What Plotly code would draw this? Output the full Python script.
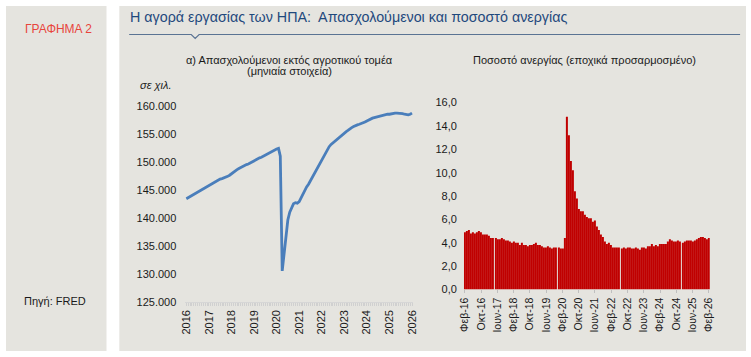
import plotly.graph_objects as go
import pandas as pd

W, H = 751, 357

# ---------------- DATA ----------------
# Nonfarm payrolls, thousands, monthly Jan 2016 .. Jan 2026
payroll_start = "2016-01-01"
payrolls = [
    143400, 143600, 143800, 144000, 144100, 144400, 144600, 144800, 145000, 145200, 145300, 145500,
    145700, 145900, 146100, 146300, 146500, 146700, 146900, 147000, 147100, 147200, 147400, 147600,
    147900, 148200, 148400, 148600, 148800, 149000, 149100, 149300, 149500, 149600, 149800, 150000,
    150200, 150300, 150500, 150700, 150800, 151000, 151200, 151300, 151500, 151700, 151900, 152100,
    152300, 152400, 151000, 130500, 133500, 137800, 139600, 141000, 141900, 142500, 142700, 142600,
    142900, 143600, 144300, 144800, 145500, 146000, 146600, 147200, 147800, 148500, 149100, 149800,
    150500, 151000, 151600, 152100, 152700, 153100, 153400, 153700, 154000, 154300, 154600, 154900,
    155100, 155400, 155600, 155900, 156100, 156300, 156500, 156600, 156700, 156800, 156900, 157100,
    157300, 157500, 157700, 157800, 157900, 158000, 158000, 158100, 158200, 158300, 158400, 158500,
    158500, 158600, 158700, 158700, 158700, 158700, 158700, 158600, 158500, 158400, 158400, 158500,
    158700,
]
year_ticks = ["2016", "2017", "2018", "2019", "2020", "2021", "2022", "2023", "2024", "2025", "2026"]

# Unemployment rate, %, monthly Feb 2016 .. Feb 2026
unemp_start = "2016-02-01"
unemployment = [
    4.9, 5.0, 5.1, 4.8, 4.9, 4.8, 4.9, 5.0, 4.9, 4.7, 4.7,
    4.7, 4.6, 4.4, 4.4, 4.4, 4.3, 4.3, 4.4, 4.3, 4.2, 4.2, 4.1,
    4.0, 4.1, 4.0, 4.0, 3.8, 4.0, 3.8, 3.8, 3.7, 3.8, 3.8, 3.9,
    4.0, 3.8, 3.8, 3.7, 3.6, 3.6, 3.7, 3.6, 3.5, 3.6, 3.6, 3.6,
    3.5, 3.5, 4.4, 14.8, 13.2, 11.0, 10.2, 8.4, 7.8, 6.9, 6.7, 6.7,
    6.4, 6.2, 6.1, 6.1, 5.8, 5.9, 5.4, 5.1, 4.7, 4.5, 4.1, 3.9,
    4.0, 3.8, 3.6, 3.6, 3.6, 3.6, 3.5, 3.6, 3.5, 3.6, 3.6, 3.5,
    3.5, 3.6, 3.5, 3.4, 3.6, 3.6, 3.5, 3.7, 3.7, 3.9, 3.7, 3.8,
    3.7, 3.9, 3.9, 3.9, 3.9, 4.1, 4.3, 4.2, 4.1, 4.1, 4.2, 4.1,
    4.0, 4.1, 4.2, 4.2, 4.2, 4.1, 4.2, 4.3, 4.4, 4.5, 4.5, 4.4,
    4.3, 4.4,
]
month_names = ["Ιαν", "Φεβ", "Μαρ", "Απρ", "Μαΐ", "Ιουν", "Ιουλ", "Αυγ", "Σεπ", "Οκτ", "Νοε", "Δεκ"]
bar_ticks = ["Φεβ-16", "Οκτ-16", "Ιουν-17", "Φεβ-18", "Οκτ-18", "Ιουν-19", "Φεβ-20", "Οκτ-20",
             "Ιουν-21", "Φεβ-22", "Οκτ-22", "Ιουν-23", "Φεβ-24", "Οκτ-24", "Ιουν-25", "Φεβ-26"]

# ---------------- BUILD ----------------
pay_dates = pd.date_range(payroll_start, periods=len(payrolls), freq="MS")
un_dates = pd.date_range(unemp_start, periods=len(unemployment), freq="MS")
un_cats = [f"{month_names[d.month - 1]}-{d.year % 100:02d}" for d in un_dates]

FONT = "Arial, Liberation Sans, sans-serif"
GRAY = "#E5E4DF"

def px(x):
    return x / W

def py(y):
    return 1 - y / H

fig = go.Figure()
fig.add_trace(go.Scatter(x=pay_dates, y=payrolls, mode="lines",
                         line=dict(color="#4A7EBB", width=2.8),
                         xaxis="x", yaxis="y", hoverinfo="x+y"))
fig.add_trace(go.Bar(x=un_cats, y=unemployment, marker=dict(color="#C00000", line=dict(width=0)),
                     xaxis="x2", yaxis="y2"))

fig.update_layout(
    width=W, height=H,
    margin=dict(l=0, r=0, t=0, b=0),
    paper_bgcolor="white", plot_bgcolor="rgba(0,0,0,0)",
    showlegend=False,
    separators=",.",
    bargap=0.5,
    font=dict(family=FONT, size=11, color="#1a1a1a"),
    xaxis=dict(
        type="date", domain=[px(182), px(413)],
        range=["2015-12-16", "2026-01-16"],
        tickvals=[f"{y}-01-01" for y in year_ticks], ticktext=year_ticks,
        tickangle=-90, showgrid=False, zeroline=False,
        showline=True, linecolor="#D6D6D6", linewidth=1,
        ticks="outside", ticklen=3, tickcolor="#D0D0D0",
        minor=dict(ticks="outside", dtick="M1", ticklen=3, tickcolor="#D0D0D0", showgrid=False),
        tickfont=dict(size=11), anchor="y", fixedrange=True,
    ),
    yaxis=dict(
        domain=[py(306), py(103.3)], range=[125000, 160000], dtick=5000,
        tickformat=",", showgrid=False, zeroline=False, showline=False,
        ticks="", ticklabelstandoff=8, tickfont=dict(size=11), anchor="x",
    ),
    xaxis2=dict(
        type="category", domain=[px(464.7), px(714.3)], range=[-0.5, len(un_cats) - 0.5],
        categoryorder="array", categoryarray=un_cats,
        tickmode="array", tickvals=bar_ticks, ticktext=bar_ticks,
        tickangle=-90, showgrid=False, zeroline=False, showline=False,
        ticks="outside", ticklen=3, tickcolor="#BFBFBF",
        tickfont=dict(size=10.5), anchor="y2",
    ),
    yaxis2=dict(
        domain=[py(293.3), py(100)], range=[0, 16], dtick=2,
        tickformat=".1f", showgrid=False, zeroline=False, showline=False,
        ticks="", ticklabelstandoff=6, tickfont=dict(size=11), anchor="x2",
    ),
)

shapes = [
    dict(type="rect", xref="paper", yref="paper", x0=0, x1=px(102), y0=0, y1=1,
         fillcolor=GRAY, line=dict(width=0), layer="below"),
    dict(type="rect", xref="paper", yref="paper", x0=px(115), x1=1, y0=0, y1=1,
         fillcolor=GRAY, line=dict(width=0), layer="below"),
    dict(type="path", xref="paper", yref="paper",
         path=f"M {px(125)},{py(29.5)} L {px(188)},{py(29.5)} L {px(192)},{py(33.5)} "
              f"L {px(196)},{py(29.5)} L {px(745)},{py(29.5)}",
         line=dict(color="#5A7393", width=1.2)),
]
fig.update_layout(shapes=shapes)

ann = [
    dict(text="ΓΡΑΦΗΜΑ 2", x=px(53), y=py(24), font=dict(size=12, color="#E8453C")),
    dict(text="Πηγή: FRED", x=px(50), y=py(305), font=dict(size=11, color="#1a1a1a")),
    dict(text="Η αγορά εργασίας των ΗΠΑ:  Απασχολούμενοι και ποσοστό ανεργίας",
         x=px(124), y=py(11), xanchor="left", font=dict(size=14.3, color="#1F497D")),
    dict(text="α) Απασχολούμενοι εκτός αγροτικού τομέα",
         x=px(288), y=py(55.5), font=dict(size=11, color="#1a1a1a")),
    dict(text="(μηνιαία στοιχεία)",
         x=px(288), y=py(67), font=dict(size=11, color="#1a1a1a")),
    dict(text="<i>σε χιλ.</i>", x=px(152), y=py(81.5), font=dict(size=11, color="#1a1a1a")),
    dict(text="Ποσοστό ανεργίας (εποχικά προσαρμοσμένο)",
         x=px(587), y=py(56), font=dict(size=11, color="#1a1a1a")),
]
for a in ann:
    a.update(xref="paper", yref="paper", showarrow=False)
    a.setdefault("xanchor", "center")
    a["yanchor"] = "middle"
fig.update_layout(annotations=ann)

fig.write_html("out.html", config={"displayModeBar": False},
               post_script="document.body.style.margin='0';document.body.style.padding='0';")
